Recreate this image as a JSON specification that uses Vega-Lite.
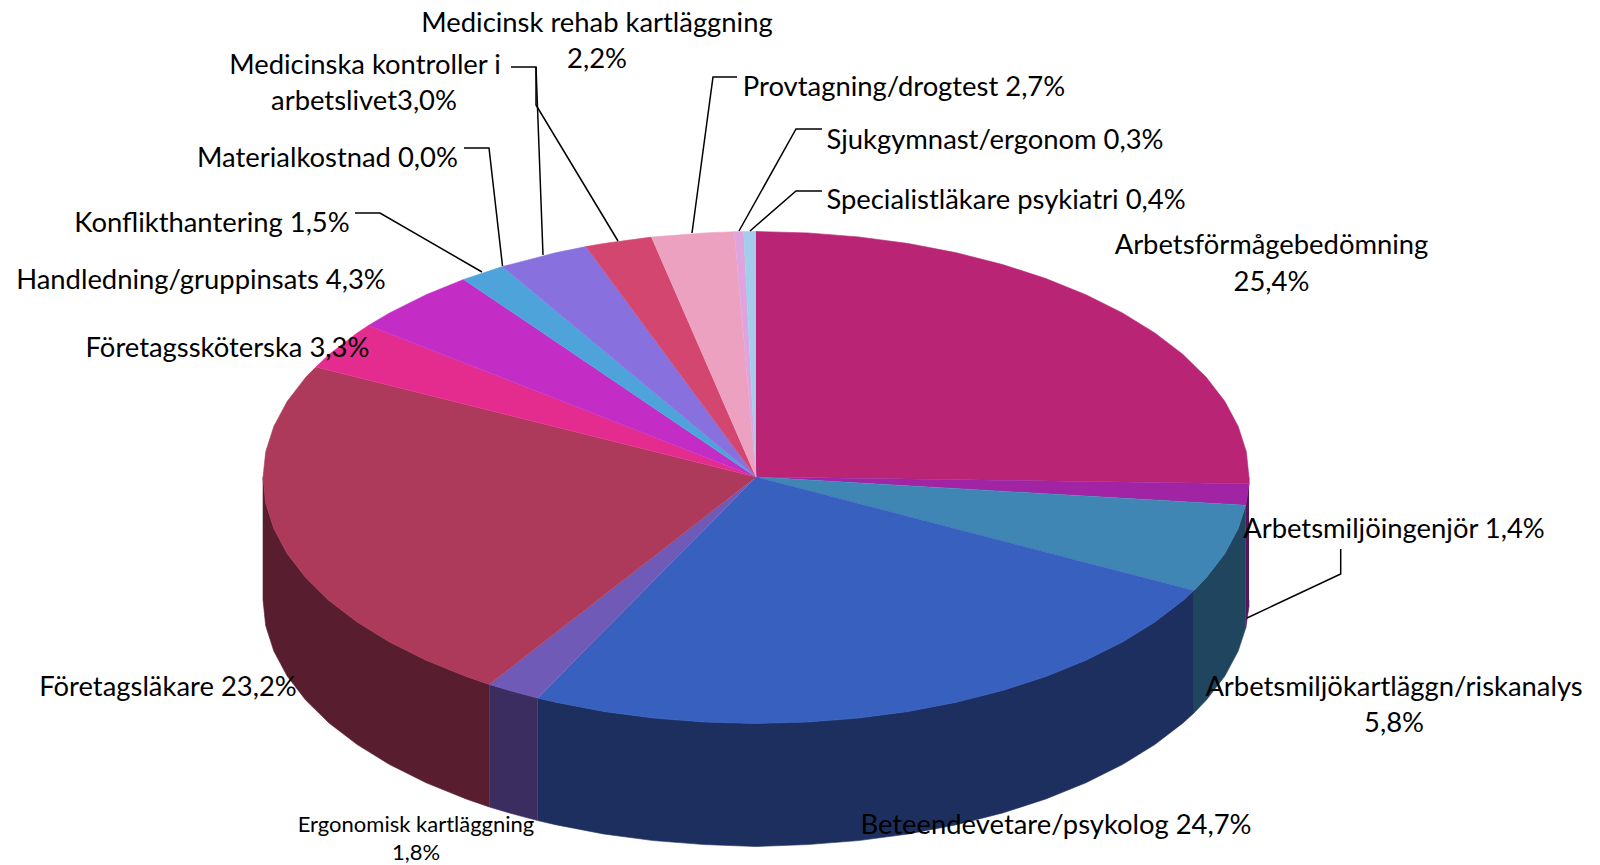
{"$schema":"https://vega.github.io/schema/vega-lite/v6.json","width":1600,"height":865,"padding":0,"autosize":{"type":"none"},"background":"white","config":{"view":{"stroke":null}},
"datasets":{
"walls":[
{"slice":"Arbetsmiljöingenjör","ord":1,"x":1249,"y":477.5},{"slice":"Arbetsmiljöingenjör","ord":2,"x":1249,"y":483.7},{"slice":"Arbetsmiljöingenjör","ord":3,"x":1245.8,"y":505.3},{"slice":"Arbetsmiljöingenjör","ord":4,"x":1245.8,"y":627.8},{"slice":"Arbetsmiljöingenjör","ord":5,"x":1249,"y":606.2},{"slice":"Arbetsmiljöingenjör","ord":6,"x":1249,"y":600},
{"slice":"Arbetsmiljökartläggn","ord":1,"x":1245.8,"y":505.3},{"slice":"Arbetsmiljökartläggn","ord":2,"x":1238.2,"y":528.6},{"slice":"Arbetsmiljökartläggn","ord":3,"x":1224.9,"y":553.5},{"slice":"Arbetsmiljökartläggn","ord":4,"x":1206.4,"y":577.5},{"slice":"Arbetsmiljökartläggn","ord":5,"x":1193.9,"y":590.6},{"slice":"Arbetsmiljökartläggn","ord":6,"x":1193.9,"y":713.1},{"slice":"Arbetsmiljökartläggn","ord":7,"x":1206.4,"y":700},{"slice":"Arbetsmiljökartläggn","ord":8,"x":1224.9,"y":676},{"slice":"Arbetsmiljökartläggn","ord":9,"x":1238.2,"y":651.1},{"slice":"Arbetsmiljökartläggn","ord":10,"x":1245.8,"y":627.8},
{"slice":"Beteendevetare","ord":1,"x":1193.9,"y":590.6},{"slice":"Beteendevetare","ord":2,"x":1183,"y":600.5},{"slice":"Beteendevetare","ord":3,"x":1154.8,"y":622.1},{"slice":"Beteendevetare","ord":4,"x":1122.4,"y":642.1},{"slice":"Beteendevetare","ord":5,"x":1085.9,"y":660.3},{"slice":"Beteendevetare","ord":6,"x":1045.8,"y":676.5},{"slice":"Beteendevetare","ord":7,"x":1002.5,"y":690.5},{"slice":"Beteendevetare","ord":8,"x":956.5,"y":702.2},{"slice":"Beteendevetare","ord":9,"x":908.3,"y":711.5},{"slice":"Beteendevetare","ord":10,"x":858.5,"y":718.1},{"slice":"Beteendevetare","ord":11,"x":807.5,"y":722.1},{"slice":"Beteendevetare","ord":12,"x":756,"y":723.5},{"slice":"Beteendevetare","ord":13,"x":704.5,"y":722.1},{"slice":"Beteendevetare","ord":14,"x":653.5,"y":718.1},{"slice":"Beteendevetare","ord":15,"x":603.7,"y":711.5},{"slice":"Beteendevetare","ord":16,"x":555.5,"y":702.2},{"slice":"Beteendevetare","ord":17,"x":537.7,"y":698.1},
{"slice":"Beteendevetare","ord":18,"x":537.7,"y":820.6},{"slice":"Beteendevetare","ord":19,"x":555.5,"y":824.7},{"slice":"Beteendevetare","ord":20,"x":603.7,"y":834},{"slice":"Beteendevetare","ord":21,"x":653.5,"y":840.6},{"slice":"Beteendevetare","ord":22,"x":704.5,"y":844.6},{"slice":"Beteendevetare","ord":23,"x":756,"y":846.5},{"slice":"Beteendevetare","ord":24,"x":807.5,"y":844.6},{"slice":"Beteendevetare","ord":25,"x":858.5,"y":840.6},{"slice":"Beteendevetare","ord":26,"x":908.3,"y":834},{"slice":"Beteendevetare","ord":27,"x":956.5,"y":824.7},{"slice":"Beteendevetare","ord":28,"x":1002.5,"y":813},{"slice":"Beteendevetare","ord":29,"x":1045.8,"y":799},{"slice":"Beteendevetare","ord":30,"x":1085.9,"y":782.8},{"slice":"Beteendevetare","ord":31,"x":1122.4,"y":764.6},{"slice":"Beteendevetare","ord":32,"x":1154.8,"y":744.6},{"slice":"Beteendevetare","ord":33,"x":1183,"y":723},{"slice":"Beteendevetare","ord":34,"x":1193.9,"y":713.1},
{"slice":"Ergonomisk","ord":1,"x":537.7,"y":698.1},{"slice":"Ergonomisk","ord":2,"x":509.5,"y":690.5},{"slice":"Ergonomisk","ord":3,"x":489.2,"y":684.4},{"slice":"Ergonomisk","ord":4,"x":489.2,"y":806.9},{"slice":"Ergonomisk","ord":5,"x":509.5,"y":813},{"slice":"Ergonomisk","ord":6,"x":537.7,"y":820.6},
{"slice":"Företagsläkare","ord":1,"x":489.2,"y":684.4},{"slice":"Företagsläkare","ord":2,"x":466.2,"y":676.5},{"slice":"Företagsläkare","ord":3,"x":426.1,"y":660.3},{"slice":"Företagsläkare","ord":4,"x":389.6,"y":642.1},{"slice":"Företagsläkare","ord":5,"x":357.2,"y":622.1},{"slice":"Företagsläkare","ord":6,"x":329,"y":600.5},{"slice":"Företagsläkare","ord":7,"x":305.6,"y":577.5},{"slice":"Företagsläkare","ord":8,"x":287.1,"y":553.5},{"slice":"Företagsläkare","ord":9,"x":273.8,"y":528.6},{"slice":"Företagsläkare","ord":10,"x":265.7,"y":503.2},{"slice":"Företagsläkare","ord":11,"x":263,"y":477.5},{"slice":"Företagsläkare","ord":12,"x":263,"y":600},{"slice":"Företagsläkare","ord":13,"x":265.7,"y":625.7},{"slice":"Företagsläkare","ord":14,"x":273.8,"y":651.1},{"slice":"Företagsläkare","ord":15,"x":287.1,"y":676},{"slice":"Företagsläkare","ord":16,"x":305.6,"y":700},{"slice":"Företagsläkare","ord":17,"x":329,"y":723},{"slice":"Företagsläkare","ord":18,"x":357.2,"y":744.6},{"slice":"Företagsläkare","ord":19,"x":389.6,"y":764.6},{"slice":"Företagsläkare","ord":20,"x":426.1,"y":782.8},{"slice":"Företagsläkare","ord":21,"x":466.2,"y":799},{"slice":"Företagsläkare","ord":22,"x":489.2,"y":806.9}
],
"tops":[
{"slice":"Arbetsförmågebedömning","ord":0,"x":756,"y":477},{"slice":"Arbetsförmågebedömning","ord":1,"x":756,"y":231.5},{"slice":"Arbetsförmågebedömning","ord":2,"x":807.5,"y":232.9},{"slice":"Arbetsförmågebedömning","ord":3,"x":858.5,"y":236.9},{"slice":"Arbetsförmågebedömning","ord":4,"x":908.3,"y":243.5},{"slice":"Arbetsförmågebedömning","ord":5,"x":956.5,"y":252.8},{"slice":"Arbetsförmågebedömning","ord":6,"x":1002.5,"y":264.5},{"slice":"Arbetsförmågebedömning","ord":7,"x":1045.8,"y":278.5},{"slice":"Arbetsförmågebedömning","ord":8,"x":1085.9,"y":294.7},{"slice":"Arbetsförmågebedömning","ord":9,"x":1122.4,"y":312.9},{"slice":"Arbetsförmågebedömning","ord":10,"x":1154.8,"y":332.9},{"slice":"Arbetsförmågebedömning","ord":11,"x":1183,"y":354.5},{"slice":"Arbetsförmågebedömning","ord":12,"x":1206.4,"y":377.4},{"slice":"Arbetsförmågebedömning","ord":13,"x":1224.9,"y":401.5},{"slice":"Arbetsförmågebedömning","ord":14,"x":1238.2,"y":426.4},{"slice":"Arbetsförmågebedömning","ord":15,"x":1246.3,"y":451.8},{"slice":"Arbetsförmågebedömning","ord":16,"x":1249,"y":477.5},{"slice":"Arbetsförmågebedömning","ord":17,"x":1249,"y":483.7},
{"slice":"Arbetsmiljöingenjör","ord":0,"x":756,"y":477},{"slice":"Arbetsmiljöingenjör","ord":1,"x":1249,"y":483.7},{"slice":"Arbetsmiljöingenjör","ord":2,"x":1245.8,"y":505.3},
{"slice":"Arbetsmiljökartläggn","ord":0,"x":756,"y":477},{"slice":"Arbetsmiljökartläggn","ord":1,"x":1245.8,"y":505.3},{"slice":"Arbetsmiljökartläggn","ord":2,"x":1238.2,"y":528.6},{"slice":"Arbetsmiljökartläggn","ord":3,"x":1224.9,"y":553.5},{"slice":"Arbetsmiljökartläggn","ord":4,"x":1206.4,"y":577.5},{"slice":"Arbetsmiljökartläggn","ord":5,"x":1193.9,"y":590.6},
{"slice":"Beteendevetare","ord":0,"x":756,"y":477},{"slice":"Beteendevetare","ord":1,"x":1193.9,"y":590.6},{"slice":"Beteendevetare","ord":2,"x":1183,"y":600.5},{"slice":"Beteendevetare","ord":3,"x":1154.8,"y":622.1},{"slice":"Beteendevetare","ord":4,"x":1122.4,"y":642.1},{"slice":"Beteendevetare","ord":5,"x":1085.9,"y":660.3},{"slice":"Beteendevetare","ord":6,"x":1045.8,"y":676.5},{"slice":"Beteendevetare","ord":7,"x":1002.5,"y":690.5},{"slice":"Beteendevetare","ord":8,"x":956.5,"y":702.2},{"slice":"Beteendevetare","ord":9,"x":908.3,"y":711.5},{"slice":"Beteendevetare","ord":10,"x":858.5,"y":718.1},{"slice":"Beteendevetare","ord":11,"x":807.5,"y":722.1},{"slice":"Beteendevetare","ord":12,"x":756,"y":723.5},{"slice":"Beteendevetare","ord":13,"x":704.5,"y":722.1},{"slice":"Beteendevetare","ord":14,"x":653.5,"y":718.1},{"slice":"Beteendevetare","ord":15,"x":603.7,"y":711.5},{"slice":"Beteendevetare","ord":16,"x":555.5,"y":702.2},{"slice":"Beteendevetare","ord":17,"x":537.7,"y":698.1},
{"slice":"Ergonomisk","ord":0,"x":756,"y":477},{"slice":"Ergonomisk","ord":1,"x":537.7,"y":698.1},{"slice":"Ergonomisk","ord":2,"x":509.5,"y":690.5},{"slice":"Ergonomisk","ord":3,"x":489.2,"y":684.4},
{"slice":"Företagsläkare","ord":0,"x":756,"y":477},{"slice":"Företagsläkare","ord":1,"x":489.2,"y":684.4},{"slice":"Företagsläkare","ord":2,"x":466.2,"y":676.5},{"slice":"Företagsläkare","ord":3,"x":426.1,"y":660.3},{"slice":"Företagsläkare","ord":4,"x":389.6,"y":642.1},{"slice":"Företagsläkare","ord":5,"x":357.2,"y":622.1},{"slice":"Företagsläkare","ord":6,"x":329,"y":600.5},{"slice":"Företagsläkare","ord":7,"x":305.6,"y":577.5},{"slice":"Företagsläkare","ord":8,"x":287.1,"y":553.5},{"slice":"Företagsläkare","ord":9,"x":273.8,"y":528.6},{"slice":"Företagsläkare","ord":10,"x":265.7,"y":503.2},{"slice":"Företagsläkare","ord":11,"x":263,"y":477.5},{"slice":"Företagsläkare","ord":12,"x":265.7,"y":451.8},{"slice":"Företagsläkare","ord":13,"x":273.8,"y":426.4},{"slice":"Företagsläkare","ord":14,"x":287.1,"y":401.5},{"slice":"Företagsläkare","ord":15,"x":305.6,"y":377.4},{"slice":"Företagsläkare","ord":16,"x":316,"y":367},
{"slice":"Företagssköterska","ord":0,"x":756,"y":477},{"slice":"Företagssköterska","ord":1,"x":316,"y":367},{"slice":"Företagssköterska","ord":2,"x":329,"y":354.5},{"slice":"Företagssköterska","ord":3,"x":357.2,"y":332.9},{"slice":"Företagssköterska","ord":4,"x":368.4,"y":325.5},
{"slice":"Handledning","ord":0,"x":756,"y":477},{"slice":"Handledning","ord":1,"x":368.4,"y":325.5},{"slice":"Handledning","ord":2,"x":389.6,"y":312.9},{"slice":"Handledning","ord":3,"x":426.1,"y":294.7},{"slice":"Handledning","ord":4,"x":463.7,"y":279.4},
{"slice":"Konflikthantering","ord":0,"x":756,"y":477},{"slice":"Konflikthantering","ord":1,"x":463.7,"y":279.4},{"slice":"Konflikthantering","ord":2,"x":502.4,"y":266.6},
{"slice":"Medicinska kontroller","ord":0,"x":756,"y":477},{"slice":"Medicinska kontroller","ord":1,"x":502.4,"y":266.6},{"slice":"Medicinska kontroller","ord":2,"x":555.5,"y":252.8},{"slice":"Medicinska kontroller","ord":3,"x":586,"y":246.6},
{"slice":"Medicinsk rehab","ord":0,"x":756,"y":477},{"slice":"Medicinsk rehab","ord":1,"x":586,"y":246.6},{"slice":"Medicinsk rehab","ord":2,"x":603.7,"y":243.5},{"slice":"Medicinsk rehab","ord":3,"x":651.5,"y":237.1},
{"slice":"Provtagning","ord":0,"x":756,"y":477},{"slice":"Provtagning","ord":1,"x":651.5,"y":237.1},{"slice":"Provtagning","ord":2,"x":704.5,"y":232.9},{"slice":"Provtagning","ord":3,"x":734.3,"y":231.7},
{"slice":"Sjukgymnast","ord":0,"x":756,"y":477},{"slice":"Sjukgymnast","ord":1,"x":734.3,"y":231.7},{"slice":"Sjukgymnast","ord":2,"x":743.6,"y":231.6},
{"slice":"Specialistläkare","ord":0,"x":756,"y":477},{"slice":"Specialistläkare","ord":1,"x":743.6,"y":231.6},{"slice":"Specialistläkare","ord":2,"x":756,"y":231.5}
],
"leaders":[
{"to":"Medicinska kontroller","ord":1,"x":511,"y":67},{"to":"Medicinska kontroller","ord":2,"x":536,"y":67},{"to":"Medicinska kontroller","ord":3,"x":543,"y":255},
{"to":"Medicinsk rehab","ord":1,"x":536,"y":67},{"to":"Medicinsk rehab","ord":2,"x":536,"y":105},{"to":"Medicinsk rehab","ord":3,"x":618,"y":241},
{"to":"Provtagning","ord":1,"x":737,"y":77},{"to":"Provtagning","ord":2,"x":713,"y":77},{"to":"Provtagning","ord":3,"x":692,"y":233},
{"to":"Materialkostnad","ord":1,"x":464,"y":148},{"to":"Materialkostnad","ord":2,"x":489,"y":148},{"to":"Materialkostnad","ord":3,"x":502.5,"y":266},
{"to":"Konflikthantering","ord":1,"x":355,"y":213},{"to":"Konflikthantering","ord":2,"x":380,"y":213},{"to":"Konflikthantering","ord":3,"x":482,"y":272},
{"to":"Sjukgymnast","ord":1,"x":822,"y":129},{"to":"Sjukgymnast","ord":2,"x":796,"y":129},{"to":"Sjukgymnast","ord":3,"x":739,"y":231},
{"to":"Specialistläkare","ord":1,"x":822,"y":191},{"to":"Specialistläkare","ord":2,"x":796,"y":191},{"to":"Specialistläkare","ord":3,"x":750,"y":231},
{"to":"Arbetsmiljöingenjör","ord":1,"x":1340.7,"y":549},{"to":"Arbetsmiljöingenjör","ord":2,"x":1340.7,"y":574},{"to":"Arbetsmiljöingenjör","ord":3,"x":1247,"y":618}
],
"labels":[
{"label":"Medicinsk rehab kartläggning","x":597,"y":24},{"label":"2,2%","x":597,"y":60},
{"label":"Medicinska kontroller i","x":365,"y":66},{"label":"arbetslivet3,0%","x":364,"y":101.5},
{"label":"Materialkostnad 0,0%","x":327.5,"y":159},
{"label":"Konflikthantering 1,5%","x":212,"y":224},
{"label":"Handledning/gruppinsats 4,3%","x":201,"y":280.5},
{"label":"Företagssköterska 3,3%","x":227.5,"y":349},
{"label":"Företagsläkare 23,2%","x":168,"y":688},
{"label":"Beteendevetare/psykolog 24,7%","x":1056,"y":825.5},
{"label":"Arbetsmiljökartläggn/riskanalys","x":1394,"y":688},{"label":"5,8%","x":1394,"y":724},
{"label":"Arbetsmiljöingenjör 1,4%","x":1394,"y":529.5},
{"label":"Arbetsförmågebedömning","x":1271.5,"y":246},{"label":"25,4%","x":1271.5,"y":282.5},
{"label":"Specialistläkare psykiatri 0,4%","x":1006,"y":200.5},
{"label":"Sjukgymnast/ergonom 0,3%","x":995,"y":140.5},
{"label":"Provtagning/drogtest 2,7%","x":904,"y":88}
],
"smallLabels":[
{"label":"Ergonomisk kartläggning","x":416,"y":825},{"label":"1,8%","x":416,"y":852.5}
]
},
"resolve":{"scale":{"fill":"independent","stroke":"independent"}},
"encoding":{
"x":{"field":"x","type":"quantitative","scale":{"domain":[0,1600],"nice":false,"zero":false},"axis":null},
"y":{"field":"y","type":"quantitative","scale":{"domain":[865,0],"nice":false,"zero":false},"axis":null}
},
"layer":[
{"data":{"name":"walls"},"mark":{"type":"line","strokeWidth":0.6},
"encoding":{"order":{"field":"ord","type":"quantitative"},
"fill":{"field":"slice","type":"nominal","legend":null,"scale":{"domain":["Arbetsmiljöingenjör","Arbetsmiljökartläggn","Beteendevetare","Ergonomisk","Företagsläkare"],"range":["#54175a","#20455f","#1c2f5f","#3b2d60","#581e30"]}},
"stroke":{"field":"slice","type":"nominal","legend":null,"scale":{"domain":["Arbetsmiljöingenjör","Arbetsmiljökartläggn","Beteendevetare","Ergonomisk","Företagsläkare"],"range":["#54175a","#20455f","#1c2f5f","#3b2d60","#581e30"]}}}},
{"data":{"name":"tops"},"mark":{"type":"line","strokeWidth":0.6},
"encoding":{"order":{"field":"ord","type":"quantitative"},
"fill":{"field":"slice","type":"nominal","legend":null,"scale":{"domain":["Arbetsförmågebedömning","Arbetsmiljöingenjör","Arbetsmiljökartläggn","Beteendevetare","Ergonomisk","Företagsläkare","Företagssköterska","Handledning","Konflikthantering","Medicinska kontroller","Medicinsk rehab","Provtagning","Sjukgymnast","Specialistläkare"],"range":["#b92474","#a024a4","#3f86b5","#3860bf","#705ab8","#ae3a5b","#e32c8d","#c42cc6","#4ea3da","#8870de","#d34670","#eda1c0","#dfa4de","#a3cdea"]}},
"stroke":{"field":"slice","type":"nominal","legend":null,"scale":{"domain":["Arbetsförmågebedömning","Arbetsmiljöingenjör","Arbetsmiljökartläggn","Beteendevetare","Ergonomisk","Företagsläkare","Företagssköterska","Handledning","Konflikthantering","Medicinska kontroller","Medicinsk rehab","Provtagning","Sjukgymnast","Specialistläkare"],"range":["#b92474","#a024a4","#3f86b5","#3860bf","#705ab8","#ae3a5b","#e32c8d","#c42cc6","#4ea3da","#8870de","#d34670","#eda1c0","#dfa4de","#a3cdea"]}}}},
{"data":{"name":"leaders"},"mark":{"type":"line","color":"#000000","strokeWidth":1.5},
"encoding":{"order":{"field":"ord","type":"quantitative"},"detail":{"field":"to","type":"nominal"}}},
{"data":{"name":"labels"},"mark":{"type":"text","font":"Lato","fontSize":27.4,"color":"#000000","align":"center","baseline":"middle"},"encoding":{"text":{"field":"label","type":"nominal"}}},
{"data":{"name":"smallLabels"},"mark":{"type":"text","font":"Lato","fontSize":22,"color":"#000000","align":"center","baseline":"middle"},"encoding":{"text":{"field":"label","type":"nominal"}}}
]}
